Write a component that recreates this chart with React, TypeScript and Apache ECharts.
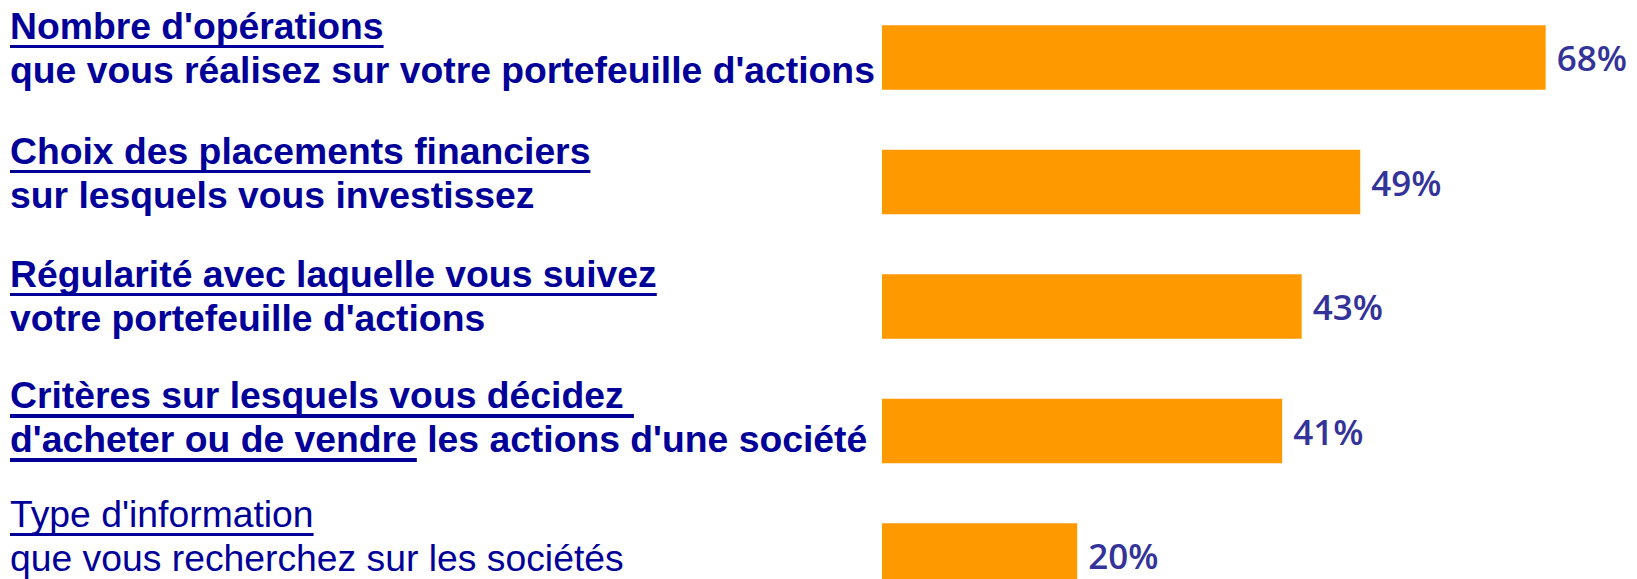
import React, { useEffect, useRef } from "react";
import * as echarts from "echarts";

const line1Text = [
  "Nombre d'opérations",
  "Choix des placements financiers",
  "Régularité avec laquelle vous suivez",
  "Critères sur lesquels vous décidez ",
  "Type d'information",
];
const line2Underlined = ["", "", "", "d'acheter ou de vendre", ""];
const line2Text = [
  "que vous réalisez sur votre portefeuille d'actions",
  "sur lesquels vous investissez",
  "votre portefeuille d'actions",
  " les actions d'une société",
  "que vous recherchez sur les sociétés",
];
const boldFlags = [true, true, true, true, false];
const values = [68, 49, 43, 41, 20];

const categories = line1Text.map((t, i) => t + " " + line2Underlined[i] + line2Text[i]);

// style only: bottom padding per label (shifts each label block vertically)
const labelBottomPadding = [20, 19, 22, 28, 40];

const TEXT_COLOR = "#000099";
const BAR_COLOR = "#FF9900";
const VALUE_COLOR = "#333399";

const underlineGradient = {
  type: "linear",
  x: 0,
  y: 0,
  x2: 0,
  y2: 1,
  colorStops: [
    { offset: 0, color: "rgba(0,0,153,0)" },
    { offset: 0.905, color: "rgba(0,0,153,0)" },
    { offset: 0.905, color: TEXT_COLOR },
    { offset: 0.975, color: TEXT_COLOR },
    { offset: 0.975, color: "rgba(0,0,153,0)" },
    { offset: 1, color: "rgba(0,0,153,0)" },
  ],
};

const baseFont = {
  fontFamily: "'Liberation Sans', Arial, sans-serif",
  fontSize: 37.3,
  color: TEXT_COLOR,
  lineHeight: 44,
};

export default function App() {
  const ref = useRef<HTMLDivElement>(null);
  useEffect(() => {
    if (!ref.current) return;
    const chart = echarts.init(ref.current, undefined, { renderer: "svg" });
    chart.setOption({
      animation: false,
      backgroundColor: "#ffffff",
      grid: {
        left: 882,
        right: 71.8,
        top: -4.75,
        bottom: -38.75,
        containLabel: false,
        outerBoundsMode: "none",
      },
      xAxis: {
        type: "value",
        min: 0,
        max: 70,
        show: false,
        splitLine: { show: false },
      },
      yAxis: {
        type: "category",
        inverse: true,
        data: categories.map((c, i) => ({
          value: c,
          textStyle: {
            align: "left",
            verticalAlign: "middle",
            padding: [0, 0, labelBottomPadding[i], 0],
          },
        })),
        axisLine: { show: false },
        axisTick: { show: false },
        splitLine: { show: false },
        axisLabel: {
          show: true,
          interval: 0,
          align: "left",
          verticalAlign: "middle",
          margin: 872,
          padding: [0, 0, 20, 0],
          formatter: (_v: string, idx: number) => {
            const w = boldFlags[idx] ? "b" : "n";
            let s = `{${w}u|${line1Text[idx]}}\n`;
            if (line2Underlined[idx]) s += `{${w}u|${line2Underlined[idx]}}`;
            s += `{${w}|${line2Text[idx]}}`;
            return s;
          },
          rich: {
            bu: { ...baseFont, fontWeight: "bold", height: 48, backgroundColor: underlineGradient },
            b: { ...baseFont, fontWeight: "bold", height: 48 },
            nu: { ...baseFont, fontWeight: "normal", height: 48, backgroundColor: underlineGradient },
            n: { ...baseFont, fontWeight: "normal", height: 48 },
          },
        },
      },
      series: [
        {
          type: "bar",
          data: values,
          barWidth: 64.7,
          itemStyle: { color: BAR_COLOR },
          label: {
            show: true,
            position: "right",
            distance: 11,
            formatter: "{c}%",
            fontFamily: "'Open Sans', sans-serif",
            fontWeight: 600,
            fontSize: 35,
            color: VALUE_COLOR,
          },
        },
      ],
    });
    return () => chart.dispose();
  }, []);
  return (
    <div
      ref={ref}
      style={{ position: "absolute", left: 0, top: 0, width: 1637, height: 579 }}
    />
  );
}
